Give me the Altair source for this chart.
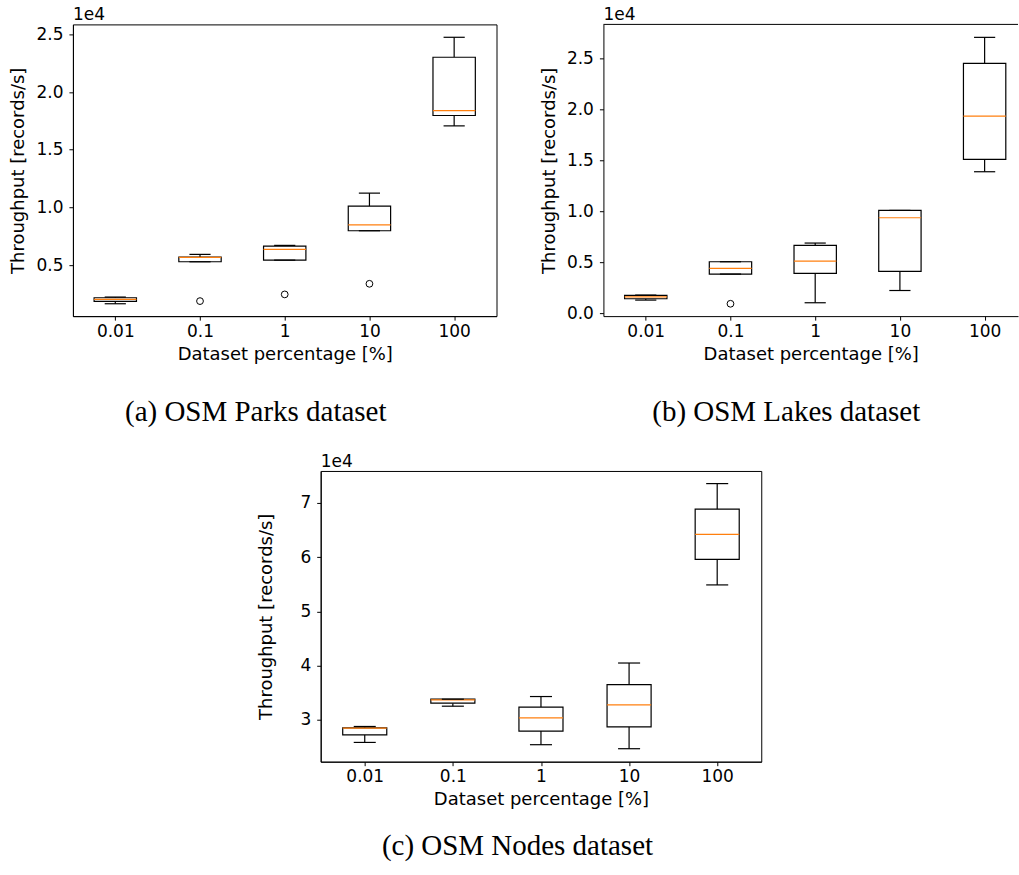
import altair as alt
import pandas as pd

labels = ["0.01", "0.1", "1", "10", "100"]
positions = [1, 2, 3, 4, 5]

# OSM Parks (records/s)
parks_lo = [1650, 5290, 5430, 7980, 17070]
parks_q1 = [1850, 5290, 5430, 7980, 17970]
parks_med = [2030, 5670, 6360, 8490, 18400]
parks_q3 = [2170, 5690, 6650, 10110, 23020]
parks_hi = [2230, 5930, 6710, 11240, 24750]
parks_out_pos = [2, 3, 4]
parks_out_val = [1880, 2460, 3380]

# OSM Lakes
lakes_lo = [1310, 3860, 1050, 2250, 13890]
lakes_q1 = [1440, 3860, 3920, 4120, 15100]
lakes_med = [1630, 4410, 5130, 9380, 19350]
lakes_q3 = [1780, 5070, 6670, 10100, 24510]
lakes_hi = [1800, 5070, 6900, 10100, 27060]
lakes_out_pos = [2]
lakes_out_val = [950]

# OSM Nodes
nodes_lo = [25830, 32510, 25410, 24670, 54870]
nodes_q1 = [27240, 33060, 27920, 28710, 59590]
nodes_med = [28470, 33680, 30370, 32760, 64180]
nodes_q3 = [28530, 33800, 32330, 36490, 68840]
nodes_hi = [28770, 33800, 34290, 40470, 73550]
nodes_out_pos = []
nodes_out_val = []

captions = ["(a) OSM Parks dataset", "(b) OSM Lakes dataset", "(c) OSM Nodes dataset"]
x_title = "Dataset percentage [%]"
y_title = "Throughput [records/s]"
exponent = "1e4"

LINE = "black"
MEDIAN = "#ff7f0e"
SW = 1.2


def panel(lo, q1, med, q3, hi, out_pos, out_val, ydom, yticks, yfmt, w, h, xmax,
          caption, cap_x, cap_y, framed=True):
    df = pd.DataFrame({"pos": positions, "label": labels, "lo": lo, "q1": q1,
                       "med": med, "q3": q3, "hi": hi})
    base = alt.Chart(df).transform_calculate(
        x0="datum.pos - 0.25", x1="datum.pos + 0.25",
        c0="datum.pos - 0.125", c1="datum.pos + 0.125")
    xscale = alt.Scale(domain=[0.5, xmax], nice=False, zero=False)
    yscale = alt.Scale(domain=ydom, nice=False, zero=False)
    label_js = "[" + ",".join("'%s'" % l for l in labels) + "][datum.value - 1]"
    xaxis = alt.Axis(values=positions, labelExpr=label_js, title=x_title, grid=False,
                     labelPadding=3, minExtent=24, maxExtent=24, titlePadding=5,
                     labelFlush=False, labelOverlap=False)
    yaxis = alt.Axis(values=yticks, labelExpr="format(datum.value / 10000, '%s')" % yfmt,
                     title=y_title, grid=False, labelPadding=6, minExtent=40,
                     maxExtent=40, titlePadding=5, labelFlush=False, labelOverlap=False)

    def X(f):
        return alt.X(f + ":Q", scale=xscale, axis=xaxis)

    def Y(f):
        return alt.Y(f + ":Q", scale=yscale, axis=yaxis)

    whisk_lo = base.mark_rule(color=LINE, strokeWidth=SW).encode(x=X("pos"), y=Y("lo"), y2="q1:Q")
    whisk_hi = base.mark_rule(color=LINE, strokeWidth=SW).encode(x=X("pos"), y=Y("q3"), y2="hi:Q")
    box = base.mark_rect(fill="white", stroke=LINE, strokeWidth=SW).encode(
        x=X("x0"), x2="x1:Q", y=Y("q1"), y2="q3:Q")
    median = base.mark_rule(color=MEDIAN, strokeWidth=SW).encode(x=X("x0"), x2="x1:Q", y=Y("med"))
    cap_lo = base.mark_rule(color=LINE, strokeWidth=SW).encode(x=X("c0"), x2="c1:Q", y=Y("lo"))
    cap_hi = base.mark_rule(color=LINE, strokeWidth=SW).encode(x=X("c0"), x2="c1:Q", y=Y("hi"))
    layers = [whisk_lo, whisk_hi, box, median, cap_lo, cap_hi]
    if out_pos:
        out_df = pd.DataFrame({"pos": out_pos, "val": out_val})
        outl = alt.Chart(out_df).mark_point(shape="circle", size=46, color=LINE,
                                            strokeWidth=1, filled=False, opacity=1).encode(
            x=X("pos"), y=Y("val"))
        layers.append(outl)
    exp = alt.Chart(pd.DataFrame({"t": [exponent]})).mark_text(
        align="left", baseline="alphabetic", fontSize=17, font="DejaVu Sans", color="black"
    ).encode(x=alt.value(0), y=alt.value(-4), text="t:N")
    cap = alt.Chart(pd.DataFrame({"t": [caption]})).mark_text(
        align="center", baseline="alphabetic", fontSize=29, font="Liberation Serif", color="black"
    ).encode(x=alt.value(cap_x), y=alt.value(cap_y), text="t:N")
    layers += [exp, cap]
    if not framed:
        top = alt.Chart(pd.DataFrame({"t": [0]})).mark_rule(color=LINE, strokeWidth=1).encode(
            x=alt.value(0), x2=alt.value(w), y=alt.value(0))
        layers.append(top)
    ch = alt.layer(*layers).properties(width=w, height=h)
    if not framed:
        ch = ch.properties(view=alt.ViewBackground(stroke="transparent"))
    return ch


a = panel(parks_lo, parks_q1, parks_med, parks_q3, parks_hi, parks_out_pos, parks_out_val,
          [578, 25867], [5000, 10000, 15000, 20000, 25000], ".1f", 424, 292, 5.5,
          captions[0], 183, 397)
b = panel(lakes_lo, lakes_q1, lakes_med, lakes_q3, lakes_hi, lakes_out_pos, lakes_out_val,
          [-260, 28330], [0, 5000, 10000, 15000, 20000, 25000], ".1f", 415, 292, 5.394,
          captions[1], 183, 397, framed=False)
c = panel(nodes_lo, nodes_q1, nodes_med, nodes_q3, nodes_hi, nodes_out_pos, nodes_out_val,
          [22280, 75880], [30000, 40000, 50000, 60000, 70000], "d", 441, 291, 5.5,
          captions[2], 197, 384)

spacer = alt.Chart(pd.DataFrame({"t": [0]})).mark_point(opacity=0).encode(
    x=alt.value(0), y=alt.value(0)).properties(
    width=248, height=1, view=alt.ViewBackground(stroke="transparent"))

top_row = alt.hconcat(a, b, spacing=107, bounds="flush")
bottom_row = alt.hconcat(spacer, c, spacing=0, bounds="flush")

# nested rows report no height under flush bounds, so the row gap includes row height
chart = alt.vconcat(top_row, bottom_row, spacing=447, bounds="flush").properties(
    padding={"left": 9, "top": 5, "right": 0, "bottom": 5},
    background="white"
).configure_view(stroke="black", strokeWidth=1).configure_axis(
    domainColor="black", domainWidth=1, tickColor="black", tickSize=4, tickWidth=1,
    labelColor="black", titleColor="black", labelFont="DejaVu Sans", titleFont="DejaVu Sans",
    labelFontSize=17, titleFontSize=18, titleFontWeight="normal", grid=False
)

chart.save("out.html", embed_options={"renderer": "svg", "actions": False})
